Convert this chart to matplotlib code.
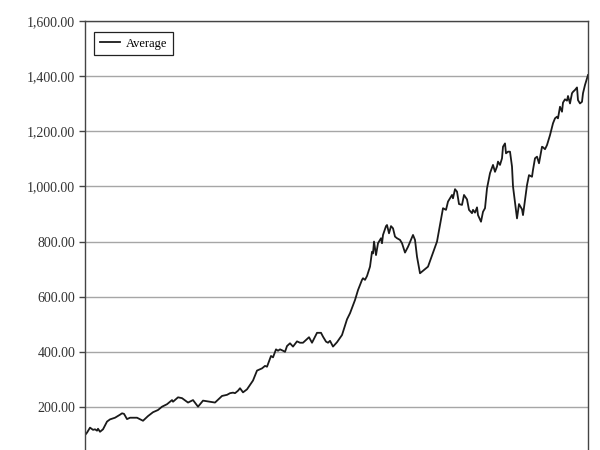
import matplotlib
matplotlib.use("Agg")
import matplotlib.pyplot as plt
from matplotlib.ticker import FuncFormatter

# period index (horizontal position) and average value
period = [0, 2, 5, 8, 10, 12, 13, 15, 18, 22,
          25, 30, 35, 37, 39, 42, 45, 52, 58, 63,
          68, 73, 77, 82, 87, 88, 93, 97, 103, 108,
          113, 118, 130, 137, 142, 145, 148, 150, 153, 155,
          158, 162, 168, 172, 177, 180, 182, 186, 188, 191,
          193, 195, 198, 200, 202, 205, 208, 212, 215, 218,
          224, 227, 232, 236, 238, 241, 243, 245, 248, 252,
          257, 262, 265, 270, 273, 277, 278, 280, 282, 285,
          287, 288, 289, 291, 293, 296, 297, 298, 301, 302,
          304, 306, 308, 310, 312, 315, 317, 320, 323, 328,
          330, 332, 335, 343, 352, 358, 361, 363, 367, 368,
          370, 372, 374, 377, 379, 382, 384, 387, 388, 390,
          392, 393, 396, 398, 400, 402, 405, 408, 410, 412,
          413, 415, 417, 418, 420, 421, 423, 425, 427, 428,
          432, 434, 437, 438, 442, 444, 447, 448, 450, 452,
          454, 457, 458, 460, 462, 465, 468, 470, 472, 473,
          475, 477, 478, 480, 482, 483, 485, 487, 488, 490,
          492, 493, 495, 497, 498, 500, 502, 503]
average = [98, 107, 125, 117, 119, 114, 121, 110, 119, 147,
           155, 161, 172, 177, 175, 156, 161, 161, 150, 167,
           181, 189, 201, 210, 225, 219, 235, 232, 216, 225,
           201, 223, 216, 240, 244, 250, 252, 250, 259, 268,
           253, 264, 296, 332, 340, 349, 346, 385, 380, 409,
           404, 409, 404, 400, 421, 431, 419, 438, 433, 433,
           453, 433, 469, 469, 455, 437, 433, 440, 419, 435,
           461, 518, 540, 588, 624, 661, 667, 661, 675, 709,
           763, 757, 800, 751, 794, 812, 794, 824, 856, 860,
           830, 856, 848, 818, 812, 806, 794, 760, 781, 824,
           806, 745, 685, 709, 800, 921, 915, 945, 969, 957,
           990, 981, 936, 933, 969, 953, 915, 903, 915, 905,
           924, 896, 872, 908, 921, 993, 1048, 1078, 1053, 1072,
           1090, 1078, 1102, 1144, 1156, 1120, 1126, 1126, 1072, 1000,
           884, 936, 917, 896, 1005, 1041, 1035, 1060, 1102, 1108,
           1084, 1144, 1142, 1135, 1150, 1186, 1229, 1247, 1253, 1247,
           1289, 1271, 1304, 1316, 1311, 1328, 1301, 1338, 1343, 1350,
           1359, 1313, 1301, 1307, 1338, 1368, 1392, 1404]

yticks = [200, 400, 600, 800, 1000, 1200, 1400, 1600]

plt.rcParams['font.family'] = ['Liberation Serif', 'DejaVu Serif']

fig = plt.figure(figsize=(6, 4.5), dpi=100)
ax = fig.add_axes([0.1417, -0.0269, 0.8383, 0.9802])

ax.plot(period, average, color='#1a1a1a', lw=1.3, label='Average')

ax.set_xlim(0, 503)
ax.set_ylim(0, 1600)
ax.set_yticks(yticks)
ax.yaxis.set_major_formatter(FuncFormatter(lambda v, p: f"{v:,.2f}"))
ax.set_xticks([])
ax.grid(axis='y', color='#a6a6a6', lw=1)
ax.set_axisbelow(True)
ax.tick_params(axis='y', direction='out', length=4, width=1, color='#444444',
               labelsize=10, labelcolor='#333333', pad=3)
for side in ['left', 'top', 'right']:
    ax.spines[side].set_color('#444444')
    ax.spines[side].set_linewidth(1)
ax.spines['bottom'].set_visible(False)

leg = ax.legend(loc='upper left', bbox_to_anchor=(9 / 503, 1 - 11 / 441),
                borderaxespad=0, fancybox=False, framealpha=1, edgecolor='#222222',
                fontsize=9, handlelength=1.6, handletextpad=0.5,
                borderpad=0.45)
leg.get_frame().set_linewidth(0.9)

fig.savefig('out.png', dpi=100)
